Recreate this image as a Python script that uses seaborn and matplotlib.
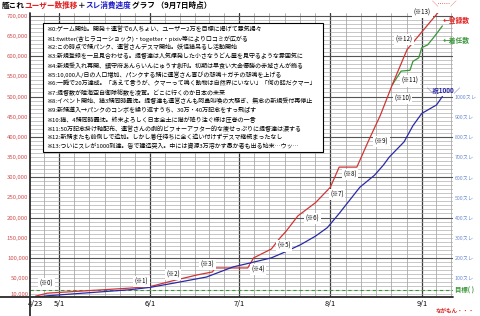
import matplotlib
matplotlib.use('Agg')
import numpy as np
import pandas as pd
import matplotlib.pyplot as plt
from matplotlib.patches import Rectangle
from matplotlib.lines import Line2D
import seaborn as sns

# ---------------- data ----------------
reg_dates = ['2013-04-23', '2013-04-27', '2013-05-25', '2013-06-01', '2013-06-09',
             '2013-06-17', '2013-06-22', '2013-06-23', '2013-07-04', '2013-07-06',
             '2013-07-12', '2013-07-15', '2013-07-17', '2013-07-21', '2013-07-27',
             '2013-08-01', '2013-08-04', '2013-08-10', '2013-08-14', '2013-08-18',
             '2013-08-22', '2013-08-27', '2013-09-08']
reg_users = [5000, 12500, 25000, 29000, 44000,
             58000, 65000, 75000, 75000, 100000,
             122000, 150000, 166000, 204000, 237000,
             275000, 325000, 325000, 391000, 454000,
             529000, 616000, 721000]

assign_dates = ['2013-08-22', '2013-08-25', '2013-08-28', '2013-08-29', '2013-08-31',
                '2013-09-01', '2013-09-03', '2013-09-05', '2013-09-08']
assign_users = [529000, 563000, 565000, 587000, 596000,
                621000, 628000, 646000, 675000]

thread_dates = ['2013-04-23', '2013-04-27', '2013-05-25', '2013-06-01', '2013-06-09',
                '2013-06-20', '2013-06-29', '2013-07-04', '2013-07-12', '2013-07-16',
                '2013-07-22', '2013-07-27', '2013-07-31', '2013-08-04', '2013-08-11',
                '2013-08-16', '2013-08-19', '2013-08-21', '2013-08-26', '2013-08-29',
                '2013-09-01', '2013-09-06', '2013-09-08']
thread_counts = [5, 12, 42, 54, 75,
                 105, 155, 172, 200, 225,
                 266, 308, 350, 420, 550,
                 610, 660, 700, 775, 855,
                 916, 958, 1000]

goal_users = 20000

x_tick_dates = ['2013-04-23', '2013-05-01', '2013-06-01', '2013-07-01', '2013-08-01', '2013-09-01']
x_tick_labels = ['4/23', '5/1', '6/1', '7/1', '8/1', '9/1']
left_ticks = [10000, 50000, 100000, 150000, 200000, 250000, 300000, 350000,
              400000, 450000, 500000, 550000, 600000, 650000, 700000]
right_ticks = [100, 200, 300, 400, 500, 600, 700, 800, 900, 1000]

notes = [
    '※0:ゲーム開始。開発＋運営で6人ちょい、ユーザー2万を目標に掲げて意気揚々',
    '※1:twitter(含ヒラコーショック)・togetter・pixiv等により口コミが広がる',
    '※2:この時点で鯖パンク、運営さんデスマ開始。妖怪猫吊るし活動開始',
    '※3:新規登録を一旦見合わせる。提督達は人気爆発した小さなうどん屋を見守るような雰囲気に',
    '※4:新規受入れ再開、鎮守府あんらいんにゅうす創刊。初期は早食い大会優勝の赤城さんが飾る',
    '※5:10,000人/日の人口増加、パンクする鯖に運営さん喜びの悲鳴＋ガチの悲鳴を上げる',
    '※6:一瞬で20万達成。「あえて言うが、クマーって鳴く動物は自然界にいない」「何の話だクマー」',
    '※7:提督数が陸海空自衛隊総数を凌駕。どこに行くのか日本の未来',
    '※8:イベント開始、猫3鯖同時轟沈。提督達も運営さんも阿鼻叫喚の大騒ぎ、無念の新規受付再停止',
    '※9:新鯖導入→パンクのコンボを繰り返すうち、30万・40万記念をすっ飛ばす',
    '※10:猫、4鯖同時轟沈。終末よろしく日本全土に猫が降り注ぐ様は圧巻の一言',
    '※11:50万記念掛け軸配布、運営さんの劇的ビフォーアフター的な痩せっぷりに提督達は涙する',
    '※12:新鯖またも前倒しで追加。しかし着任待ちに全く追い付けずデスマ継続まったなし',
    '※13:ついにスレが1000到達。皆で建造突入。中には資源3万溶かす愚か者も出る始末…ウッ…',
]
event_labels = ['(※0)', '(※1)', '(※2)', '(※3)', '(※4)', '(※5)', '(※6)',
                '(※7)', '(※8)', '(※9)', '(※10)', '(※11)', '(※12)', '(※13)']

# ---------------- style ----------------
sns.set_style('white')
plt.rcParams['font.family'] = ['Noto Sans CJK JP', 'DejaVu Sans']
plt.rcParams['axes.unicode_minus'] = False

RED = '#D03535'
BLUE = '#2A2AA6'
GREEN = '#3A963A'
TICK_RED = '#D05050'
TICK_BLUE = '#6C8CD2'

W, H = 480, 316
def fx(px):
    return px / W
def fy(py):
    return 1 - py / H

fig = plt.figure(figsize=(W / 100, H / 100), dpi=100)
ax = fig.add_axes([fx(30), fy(297), (453 - 30) / W, (297 - 13) / H])

start = pd.Timestamp('2013-04-23')
x_left = start - pd.Timedelta(hours=1.83 * 24)
x_right = start + pd.Timedelta(hours=141.6 * 24)
y_lo, y_hi = 3000, 707000

# grid lines (drawn first)
month_starts = pd.to_datetime(['2013-04-01', '2013-05-01', '2013-06-01',
                               '2013-07-01', '2013-08-01', '2013-09-01', '2013-10-01'])
for i in range(len(month_starts) - 1):
    m0, m1 = month_starts[i], month_starts[i + 1]
    span = m1 - m0
    for k in range(6):
        t = m0 + span * (k / 6)
        if x_left + pd.Timedelta(days=1) < t < x_right:
            if k == 0:
                ax.axvline(t, color='#3a3a3a', lw=0.9, zorder=1)
            else:
                ax.axvline(t, color='#9a9a9a', lw=0.5, zorder=1)
for v in range(10000, 710000, 10000):
    if v % 100000 == 0:
        ax.axhline(v, color='#555555', lw=0.8, zorder=1)
    else:
        ax.axhline(v, color='#a8a8a8', lw=0.45, zorder=1)

ax.axhline(goal_users, color=GREEN, lw=0.8, ls=(0, (3, 2.5)), zorder=2)

sns.lineplot(x=pd.to_datetime(reg_dates), y=reg_users, ax=ax, color=RED, lw=0.9, zorder=4)
sns.lineplot(x=pd.to_datetime(assign_dates), y=assign_users, ax=ax, color=GREEN, lw=0.9, zorder=3)

ax.set_xlim(x_left, x_right)
ax.set_ylim(y_lo, y_hi)
ax.set_xlabel('')
ax.set_ylabel('')
ax.set_xticks(pd.to_datetime(x_tick_dates))
ax.set_xticklabels(x_tick_labels, fontsize=5.3, color='black')
ax.set_yticks(left_ticks)
ax.set_yticklabels([f'{v:,}' for v in left_ticks], fontsize=4.3, color=TICK_RED)
ax.tick_params(axis='both', length=0, pad=1.2)
ax.tick_params(axis='x', pad=2.5)
for s in ax.spines.values():
    s.set_visible(False)
ax.grid(False)

ax2 = ax.twinx()
sns.lineplot(x=pd.to_datetime(thread_dates), y=thread_counts, ax=ax2, color=BLUE, lw=0.9)
ax2.set_ylim(y_lo / 500, y_hi / 500)
ax2.set_xlim(x_left, x_right)
ax2.set_ylabel('')
ax2.set_yticks(right_ticks)
ax2.set_yticklabels([f'{v}スレ' for v in right_ticks], fontsize=3.8, color=TICK_BLUE)
ax2.tick_params(axis='y', length=0, pad=1.2)
for s in ax2.spines.values():
    s.set_visible(False)
ax2.grid(False)

# axis lines extending past the plot
fig.add_artist(Line2D([fx(30), fx(30)], [0, fy(13)], color='#2a2a2a', lw=1.3))
fig.add_artist(Line2D([0, fx(453)], [fy(297), fy(297)], color='#2a2a2a', lw=1.3))

# notes box
fig.add_artist(Rectangle((fx(44.5), fy(153.5)), (323 - 43) / W, (152 - 23) / H,
                         facecolor='#555555', edgecolor='none', zorder=5))
fig.add_artist(Rectangle((fx(43), fy(152)), (323 - 43) / W, (152 - 23) / H,
                         facecolor='white', edgecolor='black', lw=0.8, zorder=6))
for i, line in enumerate(notes):
    fig.text(fx(46.5), fy(29.3 + 9.03 * i), line, fontsize=4.35, color='black',
             ha='left', va='center', zorder=7)

# event labels
label_pos = [(46.7, 284), (141.7, 281.7), (173, 274.3), (207.8, 264.7), (257.8, 269.6),
             (283.8, 246), (312.5, 218.3), (337, 194.3), (350, 174.7), (381.7, 141.7),
             (402.5, 98.3), (409.7, 81), (403.8, 39.6), (422.5, 12.7)]
for lab, (px, py) in zip(event_labels, label_pos):
    fig.text(fx(px), fy(py), lab, fontsize=4.4, color='black', ha='center', va='center',
             zorder=7, bbox=dict(boxstyle='square,pad=0.25', facecolor='white', edgecolor='none'))

# side annotations
fig.text(fx(443), fy(20), '←登録数', fontsize=4.9, color='#E02020', fontweight='bold',
         ha='left', va='center', zorder=7)
fig.text(fx(443), fy(40), '←着任数', fontsize=4.9, color=GREEN, fontweight='bold',
         ha='left', va='center', zorder=7)
fig.text(fx(444), fy(90), '＼祝1000／', fontsize=4.6, color=BLUE, fontweight='bold',
         ha='center', va='center', zorder=7)
fig.text(fx(445), fy(3.5), '＼……／', fontsize=4.6, color='#E02020',
         ha='center', va='center', zorder=7)
fig.text(fx(455), fy(290.5), '目標( )', fontsize=4.6, color=GREEN, fontweight='bold',
         ha='left', va='center', zorder=7)
fig.text(fx(474), fy(311), 'ながもん・・・', fontsize=4.0, color='#E02020', fontweight='bold',
         ha='right', va='center', zorder=7)

# multicolour title
title_parts = [('艦これ', 'black'), ('ユーザー数推移', '#E02020'), ('＋', 'black'),
               ('スレ消費速度', '#2020C8'), ('グラフ （9月7日時点）', 'black')]
renderer = fig.canvas.get_renderer()
xcur = 2.0
for txt, col in title_parts:
    t = fig.text(fx(xcur), fy(5.5), txt, fontsize=5.5, color=col, fontweight='bold',
                 ha='left', va='center', zorder=7)
    bb = t.get_window_extent(renderer=renderer)
    xcur += bb.width

fig.savefig('out.png', dpi=100)
